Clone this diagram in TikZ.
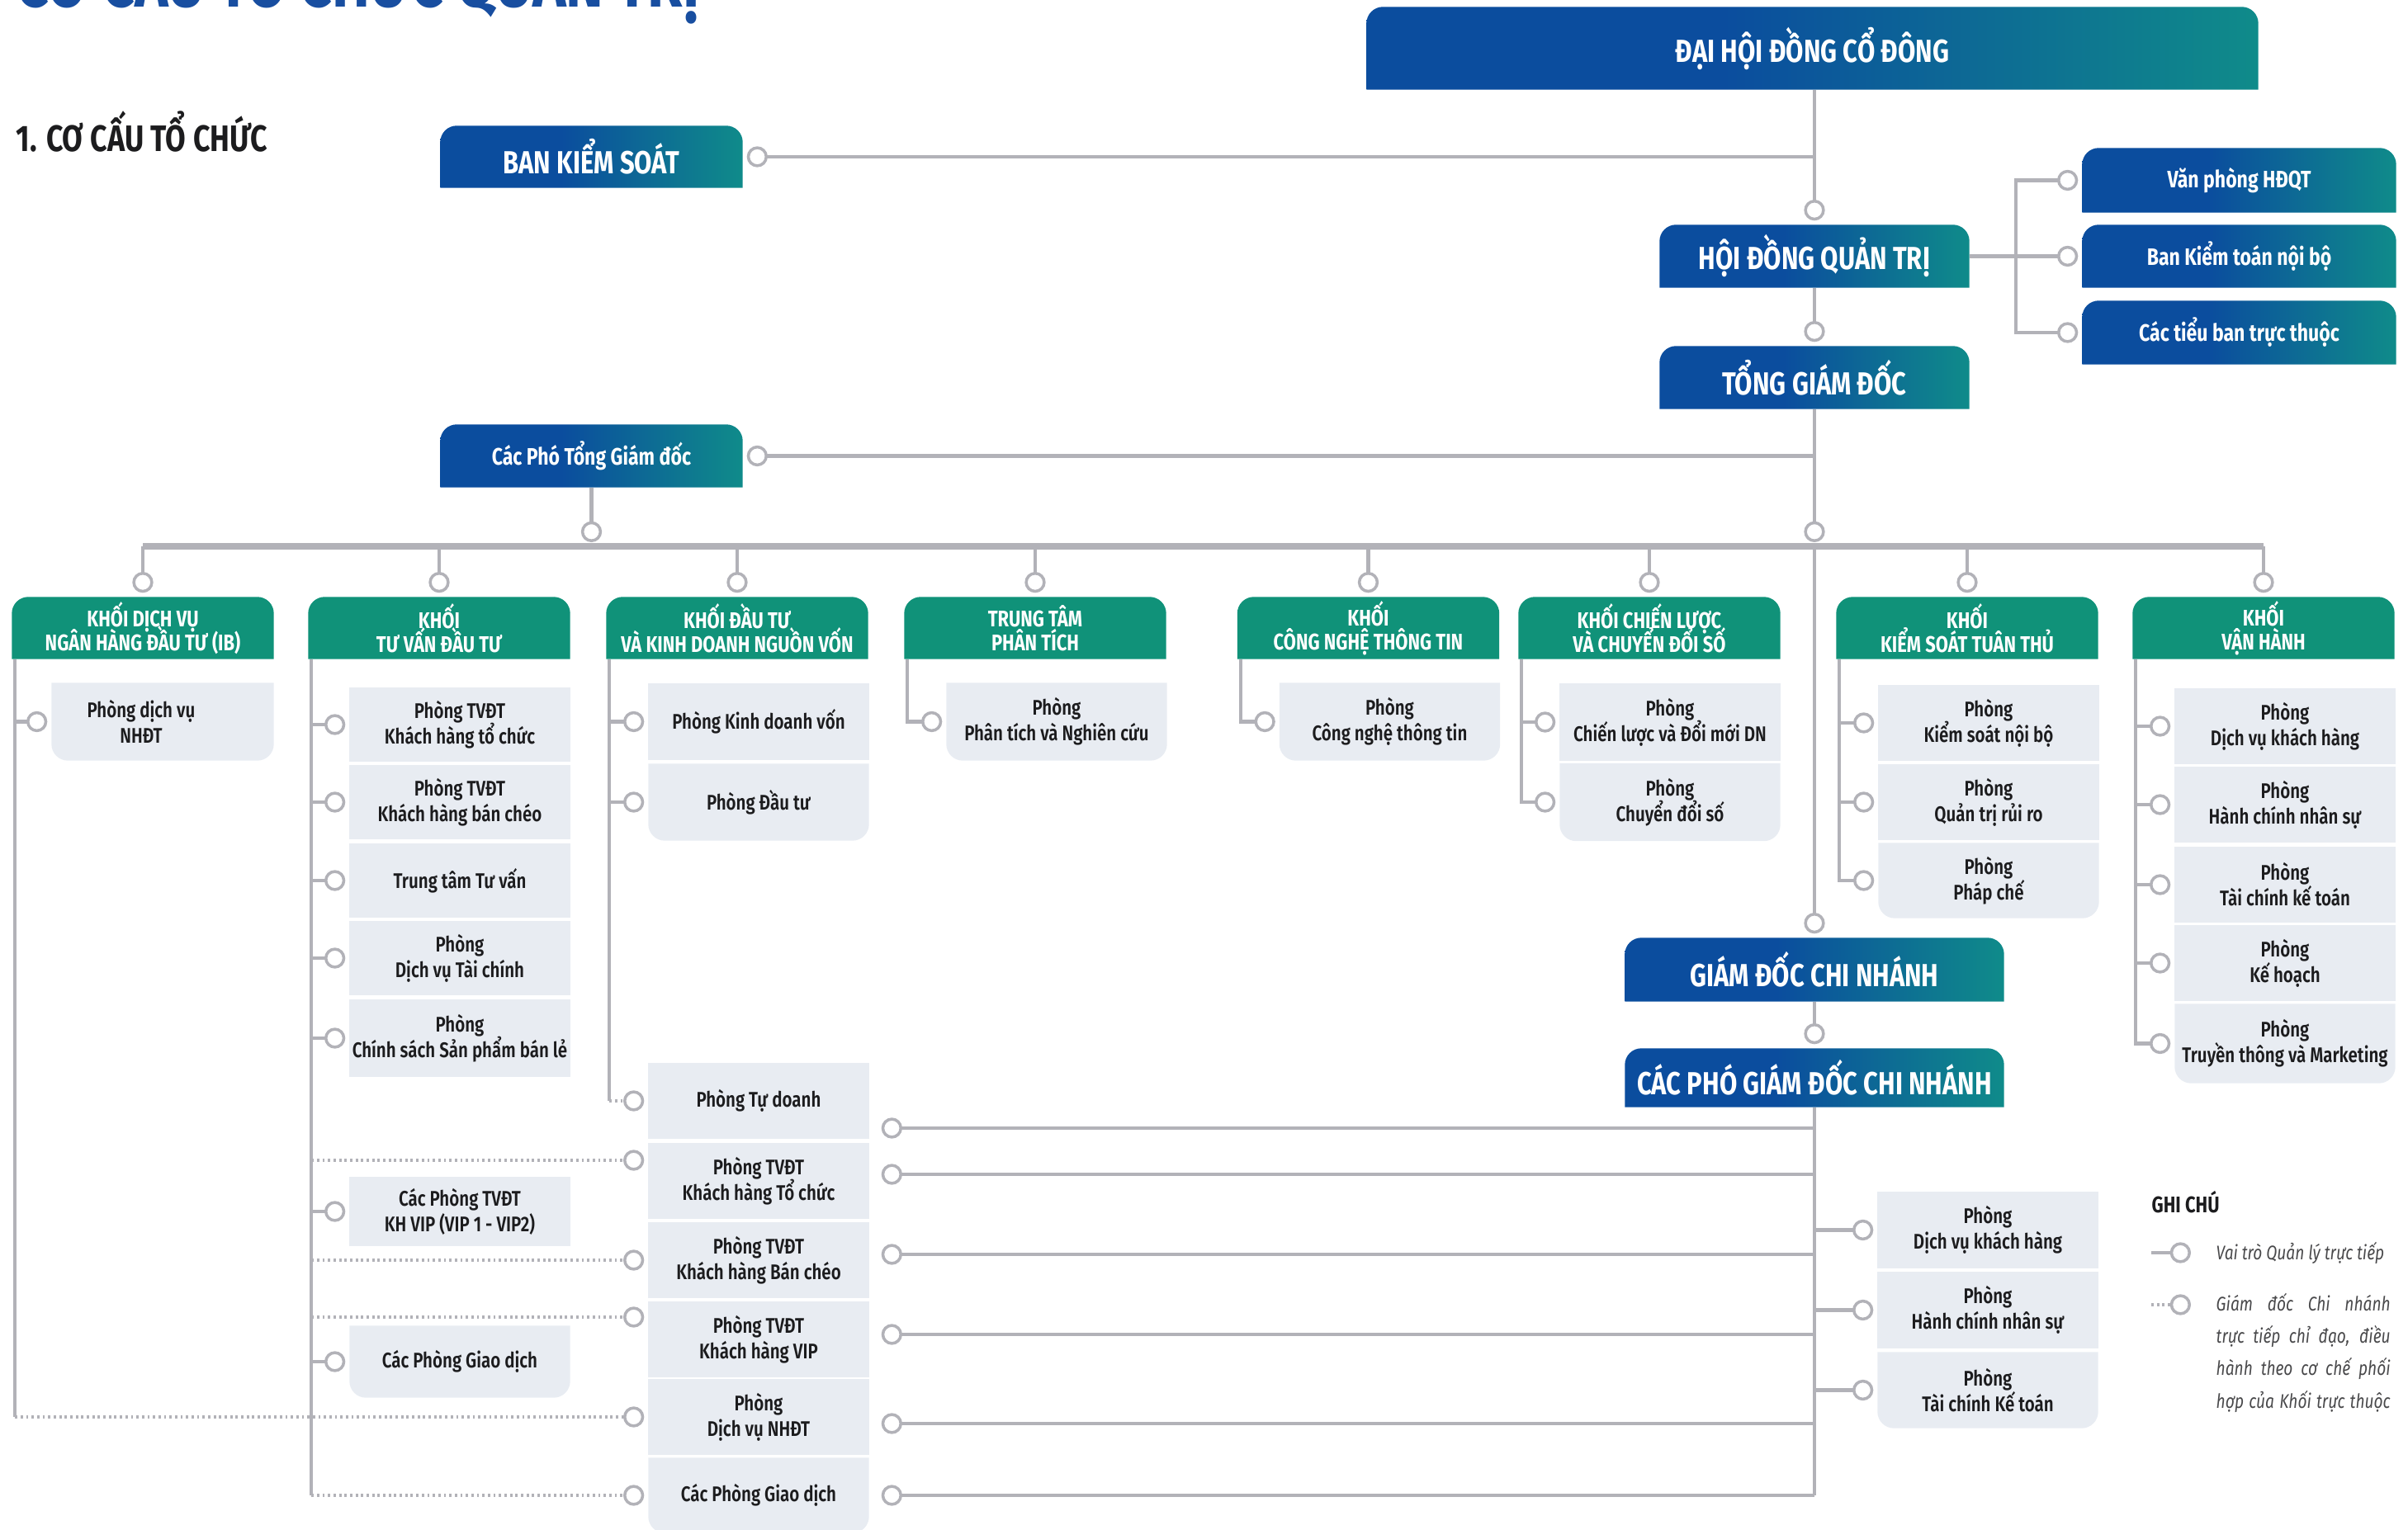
\documentclass[tikz,border=0pt]{standalone}
\usepackage{fontspec}
\setmainfont{Fira Sans}[FakeStretch=0.8]
\newfontfamily\vuaf{Fira Sans SemiBold}[FakeStretch=0.8]
\usetikzlibrary{arrows.meta,backgrounds}

\definecolor{xanh}{RGB}{11,77,158}
\definecolor{ngoc}{RGB}{15,139,138}
\definecolor{la}{RGB}{16,146,121}
\definecolor{xam}{RGB}{232,236,242}
\definecolor{duongxam}{RGB}{178,178,184}
\definecolor{chu}{RGB}{28,28,30}
\definecolor{xanhdam}{RGB}{24,78,160}

\pgfdeclarehorizontalshading{xanhngoc}{100bp}{color(0bp)=(xanh); color(45bp)=(xanh);
	color(75bp)=(ngoc); color(100bp)=(ngoc)}

\def\nenxanh#1{
\shade[shading=xanhngoc] (#1.south west) [rounded corners=0.2cm]
	-- (#1.north west) -- (#1.north east) [sharp corners] -- (#1.south east) -- cycle;
}
\def\nenla#1{
\fill[la] (#1.south west) [rounded corners=0.2cm]
	-- (#1.north west) -- (#1.north east) [sharp corners] -- (#1.south east) -- cycle;
}
\def\nenxam#1{
\fill[xam] (#1.south west) rectangle (#1.north east);
}
\def\nenxamcuoi#1{
\fill[xam] (#1.north west) [rounded corners=0.2cm]
	-- (#1.south west) -- (#1.south east) [sharp corners] -- (#1.north east) -- cycle;
}

\begin{document}
\setlength{\lineskiplimit}{-10pt}
\begin{tikzpicture}[
	hopxanh/.style={inner sep=0pt, text=white, align=center,
		font=\fontsize{11}{12}\selectfont\bfseries},
	hopxanhnho/.style={hopxanh, font=\fontsize{8.2}{9}\selectfont\bfseries},
	hopla/.style={inner sep=0pt, text=white, align=center, minimum width=3.16cm,
		minimum height=0.74cm, font=\fontsize{7.8}{8.2}\selectfont\bfseries},
	hopxam/.style={inner sep=0pt, text=chu, align=center, minimum width=2.66cm,
		minimum height=0.90cm, font=\vuaf\fontsize{7.3}{8.8}\selectfont},
	duong/.style={draw=duongxam, line width=1.2pt},
	duongtron/.style={duong, shorten >=0.5mm,
		-{Circle[length=7.2pt, fill=white, line width=1pt]}},
	duongcham/.style={duongtron, dash pattern=on 0.8pt off 1.1pt},
	truc/.style={duong, line width=2pt}]
\useasboundingbox (0,0) rectangle (29.17,-18.54);

% tieu de
\node[anchor=base west, inner sep=0pt, text=xanhdam,
	font=\fontsize{24.5}{26}\selectfont\bfseries] (dau) at (0.19,-0.09) {CƠ CẤU TỔ CHỨC QUẢN TRỊ};
\node[anchor=west, inner sep=0pt, text=chu,
	font=\fontsize{12.7}{14}\selectfont\bfseries] (muc) at (0.19,-1.59) {1. CƠ CẤU TỔ CHỨC};

% cap quan tri
\node[hopxanh, minimum width=10.79cm, minimum height=0.99cm] (dhdcd) at (21.955,-0.585) {ĐẠI HỘI ĐỒNG CỔ ĐÔNG};
\node[hopxanh, minimum width=3.65cm, minimum height=0.74cm] (bks) at (7.165,-1.90) {BAN KIỂM SOÁT};
\node[hopxanh, minimum width=3.74cm, minimum height=0.75cm] (hdqt) at (21.98,-3.105) {HỘI ĐỒNG QUẢN TRỊ};
\node[hopxanhnho, minimum width=3.79cm, minimum height=0.77cm] (vp) at (27.125,-2.185) {Văn phòng HĐQT};
\node[hopxanhnho, minimum width=3.79cm, minimum height=0.75cm] (bktnb) at (27.125,-3.105) {Ban Kiểm toán nội bộ};
\node[hopxanhnho, minimum width=3.79cm, minimum height=0.76cm] (tbtt) at (27.125,-4.03) {Các tiểu ban trực thuộc};
\node[hopxanh, minimum width=3.74cm, minimum height=0.75cm] (tgd) at (21.98,-4.575) {TỔNG GIÁM ĐỐC};
\node[hopxanhnho, minimum width=3.65cm, minimum height=0.75cm] (ptgd) at (7.165,-5.525) {Các Phó Tổng Giám đốc};
\node[hopxanh, minimum width=4.58cm, minimum height=0.76cm] (gdcn) at (21.98,-11.75) {GIÁM ĐỐC CHI NHÁNH};
\node[hopxanh, minimum width=4.58cm, minimum height=0.70cm] (pgdcn) at (21.98,-13.06) {CÁC PHÓ GIÁM ĐỐC CHI NHÁNH};

% cac khoi
\node[hopla] (k1) at (1.73,-7.61) {KHỐI DỊCH VỤ\\NGÂN HÀNG ĐẦU TƯ (IB)};
\node[hopla] (k2) at (5.32,-7.61) {KHỐI\\TƯ VẤN ĐẦU TƯ};
\node[hopla] (k3) at (8.93,-7.61) {KHỐI ĐẦU TƯ\\VÀ KINH DOANH NGUỒN VỐN};
\node[hopla] (k4) at (12.54,-7.61) {TRUNG TÂM\\PHÂN TÍCH};
\node[hopla] (k5) at (16.575,-7.61) {KHỐI\\CÔNG NGHỆ THÔNG TIN};
\node[hopla] (k6) at (19.98,-7.61) {KHỐI CHIẾN LƯỢC\\VÀ CHUYỂN ĐỔI SỐ};
\node[hopla] (k7) at (23.83,-7.61) {KHỐI\\KIỂM SOÁT TUÂN THỦ};
\node[hopla] (k8) at (27.42,-7.61) {KHỐI\\VẬN HÀNH};

% cac phong
\node[hopxam, minimum width=2.68cm, minimum height=0.93cm] (p11) at (1.97,-8.745)
	{Phòng dịch vụ\hspace*{0.52cm}\\NHĐT\hspace*{0.52cm}};
\node[hopxam, minimum height=0.88cm] (p21) at (5.57,-8.78) {Phòng TVĐT\\Khách hàng tổ chức};
\node[hopxam, minimum height=0.88cm] (p22) at (5.57,-9.72) {Phòng TVĐT\\Khách hàng bán chéo};
\node[hopxam, minimum height=0.88cm] (p23) at (5.57,-10.67) {Trung tâm Tư vấn};
\node[hopxam, minimum height=0.88cm] (p24) at (5.57,-11.61) {Phòng\\Dịch vụ Tài chính};
\node[hopxam, minimum height=0.92cm] (p25) at (5.57,-12.58) {Phòng\\Chính sách Sản phẩm bán lẻ};
\node[hopxam, minimum height=0.82cm] (p26) at (5.57,-14.68) {Các Phòng TVĐT\\KH VIP (VIP 1 - VIP2)};
\node[hopxam, minimum height=0.86cm] (p27) at (5.57,-16.50) {Các Phòng Giao dịch};
\node[hopxam, minimum height=0.92cm] (p31) at (9.19,-8.745) {Phòng Kinh doanh vốn};
\node[hopxam, minimum height=0.92cm] (p32) at (9.19,-9.72) {Phòng Đầu tư};
\node[hopxam, minimum height=0.93cm] (p41) at (12.80,-8.745) {Phòng\\Phân tích và Nghiên cứu};
\node[hopxam, minimum height=0.93cm] (p51) at (16.835,-8.745) {Phòng\\Công nghệ thông tin};
\node[hopxam, minimum height=0.93cm] (p61) at (20.23,-8.75) {Phòng\\Chiến lược và Đổi mới DN};
\node[hopxam, minimum height=0.93cm] (p62) at (20.23,-9.72) {Phòng\\Chuyển đổi số};
\node[hopxam] (p71) at (24.09,-8.76) {Phòng\\Kiểm soát nội bộ};
\node[hopxam] (p72) at (24.09,-9.72) {Phòng\\Quản trị rủi ro};
\node[hopxam] (p73) at (24.09,-10.67) {Phòng\\Pháp chế};
\node[hopxam] (p81) at (27.68,-8.80) {Phòng\\Dịch vụ khách hàng};
\node[hopxam] (p82) at (27.68,-9.75) {Phòng\\Hành chính nhân sự};
\node[hopxam] (p83) at (27.68,-10.72) {Phòng\\Tài chính kế toán};
\node[hopxam] (p84) at (27.68,-11.67) {Phòng\\Kế hoạch};
\node[hopxam, minimum height=0.95cm] (p85) at (27.68,-12.645) {Phòng\\Truyền thông và Marketing};

% phong thuoc chi nhanh
\node[hopxam] (q1) at (9.19,-13.34) {Phòng Tự doanh};
\node[hopxam] (q2) at (9.19,-14.31) {Phòng TVĐT\\Khách hàng Tổ chức};
\node[hopxam] (q3) at (9.19,-15.27) {Phòng TVĐT\\Khách hàng Bán chéo};
\node[hopxam] (q4) at (9.19,-16.23) {Phòng TVĐT\\Khách hàng VIP};
\node[hopxam] (q5) at (9.19,-17.17) {Phòng\\Dịch vụ NHĐT};
\node[hopxam] (q6) at (9.19,-18.12) {Các Phòng Giao dịch};
\node[hopxam, minimum height=0.91cm] (r1) at (24.08,-14.905) {Phòng\\Dịch vụ khách hàng};
\node[hopxam, minimum height=0.91cm] (r2) at (24.08,-15.875) {Phòng\\Hành chính nhân sự};
\node[hopxam, minimum height=0.91cm] (r3) at (24.08,-16.845) {Phòng\\Tài chính Kế toán};

% ghi chu
\node[anchor=west, inner sep=0pt, text=chu, font=\fontsize{7.8}{9}\selectfont\bfseries] (ghichu) at (26.06,-14.57) {GHI CHÚ};
\node[anchor=west, inner sep=0pt, text=chu!80, font=\fontsize{6.8}{8}\selectfont\itshape] (gc1) at (26.84,-15.18) {Vai trò Quản lý trực tiếp};
\node[anchor=north west, inner sep=0pt, text=chu!80, align=left,
	font=\fontsize{6.8}{11.2}\selectfont\itshape] (gc2) at (26.84,-15.66)
	{\makebox[2.11cm][s]{Giám đốc Chi nhánh}\\\makebox[2.11cm][s]{trực tiếp chỉ đạo, điều}\\
	\makebox[2.11cm][s]{hành theo cơ chế phối}\\\makebox[2.11cm][s]{hợp của Khối trực thuộc}};
\coordinate (gca) at (26.06,-15.18);
\coordinate (gcb) at (26.59,-15.18);
\coordinate (gcc) at (26.06,-15.81);
\coordinate (gcd) at (26.59,-15.81);
\draw[duongtron] (gca) -- (gcb);
\draw[duongcham] (gcc) -- (gcd);

% truc chinh
\draw[duongtron] (dhdcd.south -| hdqt.north) -- (hdqt.north);
\draw[duongtron] (hdqt.south) -- (tgd.north);
\draw[duongtron] (bks.east -| hdqt.north) -- (bks.east);
\coordinate (nhanh) at ([xshift=0.56cm]hdqt.east);
\draw[duong] (hdqt.east) -- (nhanh);
\draw[duongtron] (nhanh) |- (vp.west);
\draw[duongtron] (nhanh) |- (bktnb.west);
\draw[duongtron] (nhanh) |- (tbtt.west);
\draw[duongtron] (ptgd.east -| tgd.south) -- (ptgd.east);
\coordinate (bus) at (0,-6.62);
\draw[duongtron] (tgd.south) -- (tgd.south |- bus);
\draw[duongtron] (ptgd.south) -- (ptgd.south |- bus);
\draw[truc] (k1.north |- bus) -- (k8.north |- bus);
\draw[duongtron] (k1.north |- bus) -- (k1.north);
\draw[duongtron] (k2.north |- bus) -- (k2.north);
\draw[duongtron] (k3.north |- bus) -- (k3.north);
\draw[duongtron] (k4.north |- bus) -- (k4.north);
\draw[duongtron] (k5.north |- bus) -- (k5.north);
\draw[duongtron] (k6.north |- bus) -- (k6.north);
\draw[duongtron] (k7.north |- bus) -- (k7.north);
\draw[duongtron] (k8.north |- bus) -- (k8.north);
\draw[duongtron] (tgd.south |- bus) -- (gdcn.north);
\draw[duongtron] (gdcn.south) -- (pgdcn.north);

% nhanh trong khoi
\coordinate (d1) at ([xshift=0.04cm]k1.south west);
\coordinate (d2) at ([xshift=0.04cm]k2.south west);
\coordinate (d3) at ([xshift=0.04cm]k3.south west);
\coordinate (d4) at ([xshift=0.04cm]k4.south west);
\coordinate (d5) at ([xshift=0.04cm]k5.south west);
\coordinate (d6) at ([xshift=0.04cm]k6.south west);
\coordinate (d7) at ([xshift=0.04cm]k7.south west);
\coordinate (d8) at ([xshift=0.04cm]k8.south west);
\draw[duongtron] (d1) |- (p11.west);
\draw[duong] (d1) -- (d1 |- q5.west);
\draw[duongcham] (d1 |- q5.west) -- (q5.west);
\draw[duongtron] (d2) |- (p21.west);
\draw[duongtron] (d2) |- (p22.west);
\draw[duongtron] (d2) |- (p23.west);
\draw[duongtron] (d2) |- (p24.west);
\draw[duongtron] (d2) |- (p25.west);
\draw[duongtron] (d2) |- (p26.west);
\draw[duongtron] (d2) |- (p27.west);
\draw[duong] (d2) -- (d2 |- q6.west);
\coordinate (q2t) at ([yshift=0.25cm]q2.west);
\coordinate (q4t) at ([yshift=0.27cm]q4.west);
\draw[duongcham] (d2 |- q2t) -- (q2t);
\draw[duongcham] (d2 |- q3.west) -- (q3.west);
\draw[duongcham] (d2 |- q4t) -- (q4t);
\draw[duongcham] (d2 |- q6.west) -- (q6.west);
\draw[duongtron] (d3) |- (p31.west);
\draw[duongtron] (d3) |- (p32.west);
\draw[duong] (d3) -- (d3 |- q1.west);
\draw[duongcham] (d3 |- q1.west) -- (q1.west);
\draw[duongtron] (d4) |- (p41.west);
\draw[duongtron] (d5) |- (p51.west);
\draw[duongtron] (d6) |- (p61.west);
\draw[duongtron] (d6) |- (p62.west);
\draw[duongtron] (d7) |- (p71.west);
\draw[duongtron] (d7) |- (p72.west);
\draw[duongtron] (d7) |- (p73.west);
\draw[duongtron] (d8) |- (p81.west);
\draw[duongtron] (d8) |- (p82.west);
\draw[duongtron] (d8) |- (p83.west);
\draw[duongtron] (d8) |- (p84.west);
\draw[duongtron] (d8) |- (p85.west);

% chi nhanh
\coordinate (q1p) at ([xshift=1mm,yshift=-3.3mm]q1.east);
\coordinate (q2p) at ([xshift=1mm,yshift=0.8mm]q2.east);
\coordinate (q3p) at ([xshift=1mm,yshift=0.7mm]q3.east);
\coordinate (q4p) at ([xshift=1mm,yshift=0.6mm]q4.east);
\coordinate (q5p) at ([xshift=1mm,yshift=-0.8mm]q5.east);
\coordinate (q6p) at ([xshift=1mm]q6.east);
\draw[duong] (pgdcn.south) -- (pgdcn.south |- q6p);
\draw[duongtron] (pgdcn.south |- q1p) -- (q1p);
\draw[duongtron] (pgdcn.south |- q2p) -- (q2p);
\draw[duongtron] (pgdcn.south |- q3p) -- (q3p);
\draw[duongtron] (pgdcn.south |- q4p) -- (q4p);
\draw[duongtron] (pgdcn.south |- q5p) -- (q5p);
\draw[duongtron] (pgdcn.south |- q6p) -- (q6p);
\draw[duongtron] (pgdcn.south |- r1.west) -- (r1.west);
\draw[duongtron] (pgdcn.south |- r2.west) -- (r2.west);
\draw[duongtron] (pgdcn.south |- r3.west) -- (r3.west);

% nen cac hop
\begin{scope}[on background layer]
\nenxanh{dhdcd} \nenxanh{bks} \nenxanh{hdqt} \nenxanh{vp} \nenxanh{bktnb}
\nenxanh{tbtt} \nenxanh{tgd} \nenxanh{ptgd} \nenxanh{gdcn} \nenxanh{pgdcn}
\nenla{k1} \nenla{k2} \nenla{k3} \nenla{k4} \nenla{k5} \nenla{k6} \nenla{k7} \nenla{k8}
\nenxamcuoi{p11}
\nenxam{p21} \nenxam{p22} \nenxam{p23} \nenxam{p24} \nenxam{p25} \nenxam{p26} \nenxamcuoi{p27}
\nenxam{p31} \nenxamcuoi{p32}
\nenxamcuoi{p41}
\nenxamcuoi{p51}
\nenxam{p61} \nenxamcuoi{p62}
\nenxam{p71} \nenxam{p72} \nenxamcuoi{p73}
\nenxam{p81} \nenxam{p82} \nenxam{p83} \nenxam{p84} \nenxamcuoi{p85}
\nenxam{q1} \nenxam{q2} \nenxam{q3} \nenxam{q4} \nenxam{q5} \nenxamcuoi{q6}
\nenxam{r1} \nenxam{r2} \nenxamcuoi{r3}
\end{scope}
\end{tikzpicture}
\end{document}
